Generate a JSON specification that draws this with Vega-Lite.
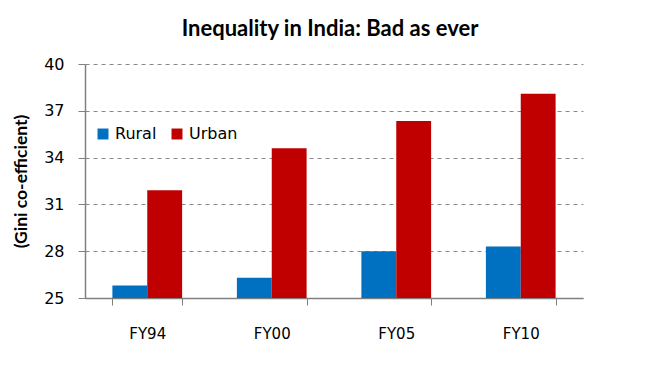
{
  "$schema": "https://vega.github.io/schema/vega-lite/v6.json",
  "width": 498,
  "height": 234,
  "autosize": {"type": "none"},
  "padding": {"left": 85, "top": 64, "right": 76, "bottom": 70},
  "background": "white",
  "title": {
    "text": "Inequality in India: Bad as ever",
    "font": "Lato",
    "fontSize": 22,
    "fontWeight": "bold",
    "color": "#000000",
    "anchor": "middle",
    "offset": 15,
    "dx": -4
  },
  "data": {
    "values": [
      {"year": "FY94", "area": "Rural", "gini": 25.8},
      {"year": "FY94", "area": "Urban", "gini": 31.9},
      {"year": "FY00", "area": "Rural", "gini": 26.3},
      {"year": "FY00", "area": "Urban", "gini": 34.6},
      {"year": "FY05", "area": "Rural", "gini": 28.0},
      {"year": "FY05", "area": "Urban", "gini": 36.35},
      {"year": "FY10", "area": "Rural", "gini": 28.3},
      {"year": "FY10", "area": "Urban", "gini": 38.1}
    ]
  },
  "mark": {"type": "bar", "clip": true},
  "encoding": {
    "x": {
      "field": "year",
      "type": "nominal",
      "sort": ["FY94", "FY00", "FY05", "FY10"],
      "scale": {"paddingInner": 0.44, "paddingOuter": 0.22},
      "axis": {
        "title": null,
        "labelAngle": 0,
        "labelFont": "DejaVu Sans",
        "labelFontSize": 15,
        "labelColor": "#000000",
        "labelPadding": 21,
        "tickBand": "extent",
        "tickSize": 7,
        "tickColor": "#808080",
        "domainColor": "#808080",
        "domainWidth": 1.5
      }
    },
    "xOffset": {"field": "area", "sort": ["Rural", "Urban"]},
    "y": {
      "field": "gini",
      "type": "quantitative",
      "scale": {"domain": [25, 40], "nice": false, "zero": false},
      "axis": {
        "values": [25, 28, 31, 34, 37, 40],
        "title": "(Gini co-efficient)",
        "titleFont": "Lato",
        "titleFontSize": 17.5,
        "titleFontWeight": "bold",
        "titleColor": "#000000",
        "titlePadding": 13,
        "labelFont": "DejaVu Sans",
        "labelFontSize": 16,
        "labelColor": "#000000",
        "labelPadding": 14,
        "tickSize": 7,
        "tickColor": "#808080",
        "domainColor": "#808080",
        "domainWidth": 1.5,
        "grid": true,
        "gridDash": [4, 4],
        "gridColor": "#888888",
        "gridWidth": 1
      }
    },
    "color": {
      "field": "area",
      "type": "nominal",
      "scale": {"domain": ["Rural", "Urban"], "range": ["#0070C0", "#C00000"]},
      "legend": {
        "title": null,
        "orient": "none",
        "legendX": 10,
        "legendY": 62,
        "direction": "horizontal",
        "symbolType": "square",
        "symbolSize": 120,
        "symbolStrokeWidth": 0,
        "labelFont": "DejaVu Sans",
        "labelFontSize": 16,
        "labelColor": "#000000",
        "columnPadding": 12,
        "labelOffset": 4
      }
    }
  },
  "config": {
    "view": {"stroke": null}
  }
}
